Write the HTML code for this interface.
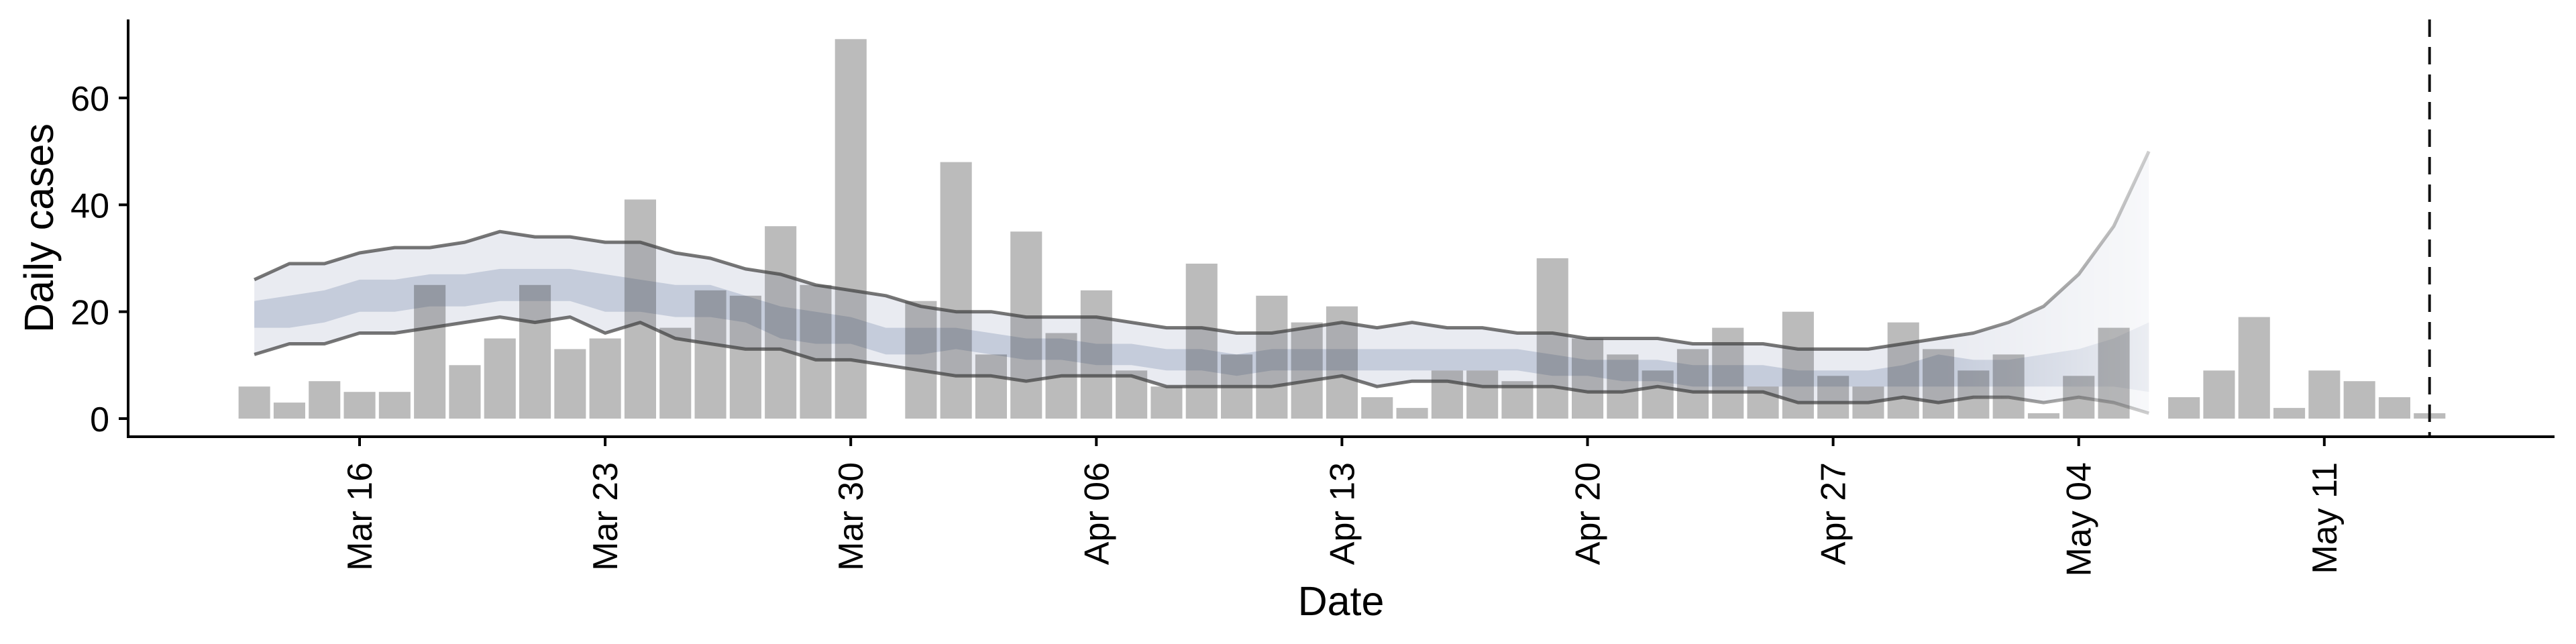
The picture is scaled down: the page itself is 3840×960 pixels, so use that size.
<!DOCTYPE html>
<html><head><meta charset="utf-8"><style>
html,body{margin:0;padding:0;background:#fff;}
svg{display:block;font-family:"Liberation Sans",Arial,sans-serif;}
</style></head><body>
<svg id="chart" width="3840" height="960" viewBox="0 0 3840 960" xmlns="http://www.w3.org/2000/svg">
<defs>
<linearGradient id="fadeGrad" gradientUnits="userSpaceOnUse" x1="2900" y1="0" x2="3203" y2="0">
<stop offset="0" stop-color="#fff" stop-opacity="1"/>
<stop offset="1" stop-color="#fff" stop-opacity="0.35"/>
</linearGradient>
<mask id="fadeMask" maskUnits="userSpaceOnUse" x="0" y="0" width="3840" height="960">
<rect x="0" y="0" width="3840" height="960" fill="url(#fadeGrad)"/>
</mask>
</defs>
<g id="bands" mask="url(#fadeMask)"></g>
<g id="bars"></g>
<g id="lines" mask="url(#fadeMask)"></g>
<g id="axes"></g>
</svg>
<script>
// Band dates: Mar 13 .. May 6 (day offsets from Mar 16)
const bandStartDay = -3;
const upper90 = [26,29,29,31,32,32,33,35,34,34,33,33,31,30,28,27,25,24,23,
 21,20,20,19,19,19,18,17,17,16,16,17,18,17,18,17,17,16,16,15,15,15,
 14,14,14,13,13,13,14,15,
 16,18,21,27,36,50];
const lower90 = [12,14,14,16,16,17,18,19,18,19,16,18,15,14,13,13,11,11,10,
 9,8,8,7,8,8,8,6,6,6,6,7,8,6,7,7,6,6,6,5,5,6,
 5,5,5,3,3,3,4,3,
 4,4,3,4,3,1];
const upper50 = [22,23,24,26,26,27,27,28,28,28,27,26,25,25,23,21,20,19,17,
 17,17,16,15,15,14,14,13,13,12,13,13,13,13,13,13,13,13,12,11,11,11,
 10,10,10,9,9,9,10,12,
 11,11,12,13,15,18];
const lower50 = [17,17,18,20,20,21,21,22,22,22,20,20,19,19,18,15,14,14,12,
 12,13,12,11,11,10,10,9,9,8,9,9,9,9,9,9,9,9,8,8,7,7,
 6,6,6,6,6,6,6,6,
 6,6,6,6,6,5];
// Cases: Mar 13 .. May 14 (null = no report)
const caseStartDay = -3;
const cases = [6,3,7,5,5,25,10,15,25,13,15,41,17,24,23,36,25,71,null,
 22,48,12,35,16,24,9,6,29,12,23,18,21,4,2,9,9,7,30,15,12,9,13,17,6,20,8,6,18,13,
 9,12,1,8,17,null,4,9,19,2,9,7,4,1];
const xTickDays = [0,7,14,21,28,35,42,49,56];
const xTickLabels = ["Mar 16","Mar 23","Mar 30","Apr 06","Apr 13","Apr 20","Apr 27","May 04","May 11"];
const yTicks = [0,20,40,60];
const cutoffDay = 59;

const NS = "http://www.w3.org/2000/svg";
const X0 = 536, DX = 52.3, Y0 = 624, DY = 7.967;
const xs = d => X0 + d * DX;
const ys = v => Y0 - v * DY;
function mk(tag, attrs, parent){const e=document.createElementNS(NS,tag);for(const k in attrs)e.setAttribute(k,attrs[k]);parent.appendChild(e);return e;}

const bands = document.getElementById('bands');
function bandPath(up, lo){
  let d = up.map((v,i)=>(i?'L':'M')+xs(bandStartDay+i).toFixed(1)+','+ys(v).toFixed(1)).join(' ');
  for(let i=lo.length-1;i>=0;i--) d += ' L'+xs(bandStartDay+i).toFixed(1)+','+ys(lo[i]).toFixed(1);
  return d+' Z';
}
const outer = mk('path',{d:bandPath(upper90,lower90),fill:'#e9ebf1'},bands);


const inner = mk('path',{d:bandPath(upper50,lower50),fill:'#c5ccdb'},bands);



const bars = document.getElementById('bars');
const bw = DX*0.9;
cases.forEach((v,i)=>{
  if(v===null) return;
  const d = caseStartDay+i;
  const r = mk('rect',{x:(xs(d)-bw/2).toFixed(1),y:ys(v).toFixed(1),width:bw.toFixed(1),height:(v*DY).toFixed(1),fill:'rgba(48,48,48,0.33)'},bars);
  
  
});

const lines = document.getElementById('lines');
function linePath(arr){return arr.map((v,i)=>(i?'L':'M')+xs(bandStartDay+i).toFixed(1)+','+ys(v).toFixed(1)).join(' ');}
const lu = mk('path',{d:linePath(upper90),fill:'none',stroke:'rgba(60,60,60,0.7)','stroke-width':5,'stroke-linejoin':'round'},lines);


const ll = mk('path',{d:linePath(lower90),fill:'none',stroke:'rgba(60,60,60,0.7)','stroke-width':5,'stroke-linejoin':'round'},lines);



const axes = document.getElementById('axes');
const cut = mk('line',{x1:xs(cutoffDay),x2:xs(cutoffDay),y1:29,y2:651,stroke:'#111','stroke-width':4,'stroke-dasharray':'26 15'},axes);


const ya = mk('line',{x1:191,x2:191,y1:29,y2:652.5,stroke:'#000','stroke-width':4},axes);


const xa = mk('line',{x1:189,x2:3808,y1:651,y2:651,stroke:'#000','stroke-width':4},axes);


yTicks.forEach(v=>{
  const t = mk('line',{x1:177,x2:191,y1:ys(v),y2:ys(v),stroke:'#000','stroke-width':4},axes);
  
  
  const l = mk('text',{x:163,y:ys(v)+19,'text-anchor':'end','font-size':52,fill:'#000'},axes);
  l.textContent = v;
  
  
});
xTickDays.forEach((d,i)=>{
  const t = mk('line',{x1:xs(d),x2:xs(d),y1:651,y2:665,stroke:'#000','stroke-width':4},axes);
  
  
  const x = xs(d)+18, y = 689;
  const l = mk('text',{x:x,y:y,'text-anchor':'end','font-size':52,fill:'#000',transform:`rotate(-90 ${x} ${y})`},axes);
  l.textContent = xTickLabels[i];
  
  
});
const yt = mk('text',{x:58+21,y:340,'text-anchor':'middle','font-size':61,fill:'#000',transform:'rotate(-90 79 340)'},axes);
yt.textContent = 'Daily cases';


const xt = mk('text',{x:1999,y:917,'text-anchor':'middle','font-size':61,fill:'#000'},axes);
xt.textContent = 'Date';


</script>
</body></html>
